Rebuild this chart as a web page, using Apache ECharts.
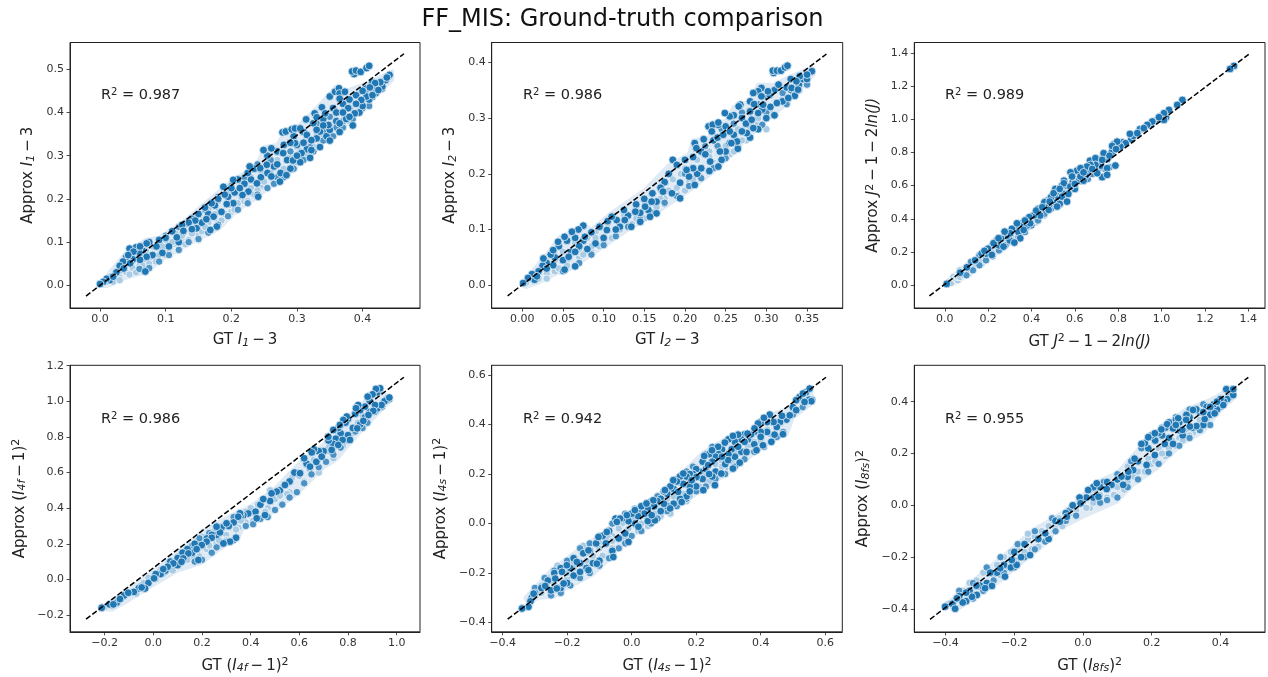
<!DOCTYPE html>
<html><head><meta charset="utf-8">
<style>html,body{margin:0;padding:0;background:#fff}#c{width:1268px;height:677px}</style>
<script src="https://cdn.jsdelivr.net/npm/echarts@6/dist/echarts.min.js"></script></head>
<body><div id="c"></div>
<script>
// ---- tick values
const xTicks1=[0,0.1,0.2,0.3,0.4], yTicks1=[0,0.1,0.2,0.3,0.4,0.5];
const xTicks2=[0,0.05,0.1,0.15,0.2,0.25,0.3,0.35], yTicks2=[0,0.1,0.2,0.3,0.4];
const xTicks3=[0,0.2,0.4,0.6,0.8,1,1.2,1.4], yTicks3=[0,0.2,0.4,0.6,0.8,1,1.2,1.4];
const xTicks4=[-0.2,0,0.2,0.4,0.6,0.8,1], yTicks4=[-0.2,0,0.2,0.4,0.6,0.8,1,1.2];
const xTicks5=[-0.4,-0.2,0,0.2,0.4,0.6], yTicks5=[-0.4,-0.2,0,0.2,0.4,0.6];
const xTicks6=[-0.4,-0.2,0,0.2,0.4], yTicks6=[-0.4,-0.2,0,0.2,0.4];
const r2Values=["0.987","0.986","0.989","0.986","0.942","0.955"];
// ---- reference (dashed) line end points
const line1=[[-0.0213,-0.0248],[0.463,0.536]];
const line2=[[-0.018,-0.019],[0.374,0.415]];
const line3=[[-0.071,-0.0645],[1.403,1.392]];
const line4=[[-0.2766,-0.223],[1.03,1.135]];
const line5=[[-0.3845,-0.386],[0.6025,0.5907]];
const line6=[[-0.445,-0.44],[0.481,0.494]];
// ---- outline of the dense pale cloud
const cloud1=[[0,0],[.015,.03],[.04,.075],[.07,.105],[.09,.11],[.13,.15],[.16,.19],[.2,.24],[.24,.28],[.25,.32],[.27,.325],[.28,.35],[.3,.365],[.33,.41],[.36,.46],[.375,.45],[.41,.47],[.445,.495],[.445,.475],[.42,.44],[.4,.41],[.37,.365],[.34,.335],[.31,.29],[.285,.255],[.26,.23],[.24,.205],[.21,.175],[.18,.13],[.14,.1],[.1,.065],[.07,.03],[.04,.018],[.01,-.002]];
const cloud2=[[0,0],[.01,.02],[.03,.055],[.045,.085],[.075,.108],[.085,.1],[.11,.13],[.15,.17],[.18,.215],[.205,.235],[.21,.26],[.23,.265],[.235,.29],[.25,.295],[.26,.32],[.28,.33],[.29,.36],[.31,.36],[.33,.375],[.355,.39],[.358,.378],[.34,.35],[.32,.32],[.3,.295],[.27,.255],[.24,.21],[.21,.175],[.18,.145],[.16,.125],[.13,.1],[.1,.07],[.08,.05],[.06,.03],[.04,.02],[.02,.005],[.005,-.003]];
const cloud3=[[0,.005],[.05,.07],[.1,.125],[.15,.17],[.2,.235],[.3,.33],[.4,.43],[.5,.55],[.52,.5],[.45,.42],[.4,.36],[.35,.3],[.25,.2],[.2,.16],[.15,.11],[.1,.055],[.05,.015],[.01,-.005]];
const cloud4=[[-.22,-.165],[-.1,-.055],[0,.045],[.1,.15],[.2,.27],[.3,.345],[.4,.41],[.5,.51],[.6,.65],[.7,.755],[.8,.91],[.9,1.04],[.93,1.08],[.97,1.0],[.85,.83],[.75,.67],[.7,.63],[.58,.47],[.45,.34],[.37,.3],[.35,.23],[.3,.2],[.2,.095],[.1,.05],[0,-.03],[-.1,-.115],[-.17,-.17]];
const cloud5=[[-.33,-.3],[-.3,-.26],[-.25,-.19],[-.2,-.14],[-.14,-.085],[-.08,-.03],[-.03,.03],[.01,.06],[.07,.1],[.12,.16],[.17,.22],[.22,.285],[.27,.325],[.33,.365],[.37,.37],[.43,.44],[.5,.47],[.55,.55],[.565,.49],[.5,.43],[.48,.36],[.44,.34],[.38,.285],[.32,.225],[.27,.18],[.2,.12],[.15,.075],[.1,.045],[.06,-.005],[.01,-.04],[-.03,-.08],[-.06,-.13],[-.12,-.205],[-.2,-.26],[-.24,-.295],[-.29,-.3],[-.32,-.32]];
const cloud6=[[-.4,-.385],[-.35,-.33],[-.3,-.27],[-.25,-.215],[-.2,-.16],[-.15,-.1],[-.08,-.045],[-.03,0],[0,.04],[.04,.09],[.1,.125],[.15,.2],[.2,.27],[.25,.32],[.3,.37],[.35,.395],[.39,.42],[.43,.455],[.44,.415],[.4,.37],[.35,.284],[.29,.24],[.214,.143],[.146,.08],[.098,.014],[0,-.044],[-.076,-.095],[-.125,-.166],[-.2,-.243],[-.24,-.29],[-.32,-.36],[-.37,-.405]];
// ---- pale markers (dense interior)
const pale1=[[.01,.008],[.015,.02],[.02,.008],[.03,.03],[.03,.018],[.04,.05],[.04,.03],[.05,.065],[.05,.04],[.06,.07],[.06,.045],[.07,.08],[.07,.055],[.08,.09],[.08,.06],[.09,.1],[.09,.07],[.1,.105],[.1,.08],[.1,.07],[.115,.12],[.115,.095],[.13,.14],[.13,.105],[.13,.095],[.145,.16],[.15,.135],[.15,.115],[.165,.175],[.165,.145],[.18,.195],[.18,.17],[.18,.145],[.195,.215],[.2,.185],[.2,.17],[.215,.24],[.215,.2],[.23,.25],[.23,.225],[.245,.265],[.245,.23],[.26,.26],[.27,.29],[.285,.27],[.3,.32],[.31,.3],[.33,.35],[.35,.35],[.38,.38],[.03,.012],[.045,.025],[.055,.03],[.065,.045],[.075,.05],[.085,.055],[.095,.09],[.105,.075],[.11,.1],[.12,.085],[.125,.115],[.135,.105],[.14,.12],[.15,.105],[.155,.125],[.16,.135],[.17,.13],[.175,.165],[.185,.15],[.19,.165],[.195,.16],[.205,.175],[.21,.19],[.22,.195],[.225,.195],[.235,.21],[.24,.22],[.25,.24],[.255,.225],[.265,.25],[.27,.245],[.28,.27],[.29,.3],[.295,.28],[.305,.31],[.315,.3],[.325,.32],[.34,.34]];
const pale2=[[.005,.005],[.012,.02],[.02,.012],[.025,.035],[.03,.02],[.04,.045],[.04,.025],[.05,.06],[.055,.04],[.065,.075],[.07,.05],[.08,.085],[.085,.065],[.09,.095],[.1,.08],[.105,.11],[.115,.09],[.125,.125],[.13,.105],[.14,.14],[.145,.115],[.155,.15],[.165,.14],[.17,.17],[.175,.155],[.185,.19],[.19,.165],[.2,.21],[.205,.185],[.215,.225],[.22,.195],[.23,.24],[.235,.22],[.25,.25],[.255,.235],[.265,.28],[.275,.26],[.29,.29],[.305,.31],[.32,.335],[.03,.012],[.045,.03],[.055,.035],[.07,.06],[.075,.055],[.085,.07],[.09,.085],[.095,.07],[.11,.085],[.12,.1],[.125,.115],[.135,.11],[.14,.12],[.15,.12],[.16,.13],[.17,.155],[.175,.145],[.18,.17],[.19,.175],[.195,.2],[.2,.17],[.21,.19],[.22,.21],[.23,.23],[.24,.215],[.25,.23],[.26,.24],[.27,.26],[.28,.285],[.29,.3],[.3,.28]];
const pale3=[[.02,.02],[.03,.015],[.04,.05],[.05,.04],[.06,.03],[.07,.09],[.08,.06],[.09,.08],[.1,.1],[.11,.07],[.12,.13],[.13,.1],[.14,.14],[.15,.12],[.16,.16],[.17,.13],[.18,.18],[.19,.17],[.2,.2],[.21,.18],[.23,.22],[.25,.25],[.26,.22],[.28,.29],[.3,.26],[.32,.32],[.34,.31],[.36,.37],[.38,.35],[.4,.41],[.42,.38],[.44,.44],[.46,.42],[.48,.49],[.06,.05],[.07,.05],[.08,.08],[.09,.06],[.11,.1],[.12,.09],[.13,.11],[.14,.12],[.15,.15],[.16,.13],[.17,.15],[.18,.2],[.19,.15],[.2,.18],[.21,.21],[.22,.2],[.24,.23],[.26,.25],[.27,.27],[.29,.26],[.3,.3],[.31,.28],[.33,.35],[.35,.33],[.37,.35],[.39,.39],[.41,.39],[.43,.42],[.45,.44],[.47,.46]];
const pale4=[[-.2,-.155],[-.17,-.15],[-.15,-.115],[-.12,-.1],[-.1,-.07],[-.08,-.07],[-.05,-.03],[-.03,-.01],[0,.02],[.02,.02],[.03,.055],[.05,.04],[.06,.09],[.09,.07],[.1,.13],[.12,.1],[.13,.16],[.15,.12],[.17,.2],[.19,.13],[.2,.24],[.22,.17],[.24,.24],[.26,.2],[.28,.3],[.3,.25],[.33,.33],[.35,.29],[.38,.38],[.41,.33],[.43,.42],[.47,.4],[.5,.45],[.53,.52],[.56,.49],[.59,.6],[.62,.55],[.66,.67],[.68,.6],[.72,.72],[.74,.68],[.78,.75],[.82,.82],[.86,.92],[.92,.97],[.9,.95],[.84,.88],[.78,.8],[.72,.74],[.64,.62],[.6,.58],[.57,.57],[.55,.48],[.52,.47],[.48,.5],[.46,.38],[.42,.36],[.4,.4],[.38,.32],[.36,.33],[.34,.28],[.32,.32],[.3,.22],[.27,.22],[.25,.27],[.23,.19],[.21,.2],[.18,.22],[.16,.13],[.14,.11],[.11,.09],[.08,.05],[.04,.03],[.01,0],[-.02,.01],[-.04,-.02],[-.07,-.08],[-.11,-.07],[-.13,-.11],[-.16,-.12]];
const pale5=[[-.3,-.28],[-.28,-.25],[-.26,-.22],[-.25,-.27],[-.22,-.18],[-.2,-.22],[-.18,-.16],[-.17,-.22],[-.14,-.12],[-.13,-.16],[-.1,-.08],[-.09,-.13],[-.06,-.05],[-.06,-.1],[-.03,0],[-.02,-.06],[0,.02],[.02,-.03],[.04,.03],[.05,-.01],[.08,.08],[.09,.03],[.11,.1],[.12,.04],[.15,.12],[.17,.09],[.19,.16],[.2,.14],[.23,.2],[.25,.17],[.27,.25],[.29,.22],[.32,.29],[.33,.25],[.36,.31],[.38,.33],[.42,.38],[.45,.39],[.5,.46],[-.28,-.28],[-.24,-.24],[-.23,-.17],[-.2,-.2],[-.18,-.18],[-.15,-.09],[-.14,-.15],[-.12,-.13],[-.1,-.1],[-.07,-.06],[-.06,-.07],[-.04,-.02],[-.01,-.02],[.01,.02],[.03,0],[.06,.02],[.07,.04],[.1,.06],[.13,.11],[.14,.08],[.16,.12],[.18,.11],[.21,.15],[.24,.17],[.26,.24],[.28,.23],[.31,.25],[.33,.31],[.36,.29],[.4,.33],[.43,.36]];
const pale6=[[-.36,-.35],[-.33,-.3],[-.3,-.3],[-.28,-.25],[-.26,-.27],[-.23,-.2],[-.22,-.24],[-.19,-.17],[-.19,-.21],[-.16,-.13],[-.15,-.17],[-.12,-.1],[-.11,-.14],[-.09,-.07],[-.08,-.09],[-.05,-.03],[-.03,-.03],[0,.01],[.02,-.01],[.04,.05],[.06,.02],[.08,.08],[.09,.04],[.11,.09],[.12,.06],[.14,.15],[.15,.11],[.17,.13],[.19,.18],[.2,.16],[.22,.22],[.24,.19],[.26,.25],[.28,.26],[.3,.29],[.32,.28],[.34,.33],[.36,.33],[.38,.38],[-.39,-.38],[-.35,-.33],[-.31,-.29],[-.29,-.26],[-.25,-.23],[-.24,-.27],[-.21,-.18],[-.2,-.21],[-.17,-.18],[-.16,-.11],[-.14,-.12],[-.13,-.16],[-.1,-.08],[-.07,-.05],[-.06,-.08],[-.04,-.02],[-.02,-.02],[.01,-.01],[.03,.01],[.05,.04],[.07,.03],[.1,.07],[.13,.09],[.13,.15],[.16,.13],[.18,.13],[.21,.17],[.23,.2],[.25,.22],[.27,.23],[.29,.25],[.31,.27],[.33,.3],[.35,.31]];
// ---- mid-tone markers along the rims of each band
const rim1=[[.06,.038],[.075,.04],[.09,.055],[.105,.07],[.12,.082],[.135,.1],[.15,.107],[.165,.122],[.18,.14],[.195,.16],[.21,.175],[.225,.19],[.24,.21],[.255,.225],[.265,.235],[.28,.25],[.295,.27],[.31,.29],[.325,.31],[.34,.335],[.355,.345],[.37,.365],[.385,.385],[.4,.41],[.415,.435],[.43,.455],[.1,.115],[.12,.135],[.14,.155],[.16,.175],[.18,.205],[.2,.23],[.22,.25],[.24,.28],[.26,.29],[.27,.25],[.29,.31],[.3,.29],[.32,.32],[.34,.355],[.36,.365],[.38,.41],[.37,.38],[.35,.39],[.33,.375],[.42,.46],[.41,.415]];
const rim2=[[.05,.025],[.07,.04],[.085,.055],[.1,.072],[.115,.088],[.13,.105],[.145,.118],[.16,.13],[.175,.148],[.19,.16],[.205,.178],[.22,.192],[.235,.21],[.25,.228],[.265,.248],[.28,.265],[.295,.288],[.31,.305],[.325,.325],[.34,.35],[.35,.36],[.29,.325],[.3,.31],[.32,.345],[.33,.35],[.27,.31],[.26,.29],[.24,.25],[.245,.28],[.225,.25],[.2,.2]];
const rim3=[[.1,.06],[.13,.09],[.16,.12],[.19,.15],[.22,.175],[.25,.21],[.28,.24],[.31,.265],[.34,.29],[.37,.32],[.4,.36],[.43,.39],[.46,.43],[.49,.46],[.52,.54],[.47,.51],[.42,.43],[.33,.34],[.28,.3],[.23,.25],[.16,.18],[.12,.14],[.66,.64],[.68,.67],[.74,.7],[.71,.7],[.76,.71]];
const rim4=[[.97,1.01],[.94,.97],[.91,.94],[.88,.88],[.86,.85],[.83,.83],[.8,.78],[.77,.74],[.74,.7],[.71,.66],[.68,.63],[.65,.59],[.62,.54],[.59,.49],[.56,.46],[.53,.42],[.5,.39],[.47,.35],[.44,.34],[.41,.31],[.38,.3],[.33,.22],[.3,.21],[.26,.18],[.24,.15],[.2,.11],[.17,.1],[.36,.37],[.33,.35],[.26,.3],[.23,.26],[.19,.23],[.16,.19]];
const rim5=[[.56,.5],[.53,.47],[.5,.44],[.47,.37],[.45,.35],[.41,.31],[.38,.29],[.35,.26],[.32,.23],[.29,.2],[.26,.18],[.23,.15],[.2,.13],[.17,.1],[.14,.07],[.11,.05],[.08,.02],[.06,0],[.03,-.03],[0,-.05],[-.02,-.08],[-.04,-.1],[-.07,-.14],[-.1,-.17],[-.13,-.2],[-.16,-.22],[-.19,-.25],[-.22,-.28],[-.25,-.29],[.33,.36],[.29,.33],[.25,.31],[.23,.28],[.19,.23],[.17,.21],[.14,.18],[.11,.14],[.08,.11],[.06,.09],[.03,.05],[.01,.06],[-.02,.04],[-.06,0],[-.1,-.05],[-.13,-.08],[-.16,-.1],[-.2,-.15],[-.24,-.19],[-.27,-.22],[-.3,-.26]];
const rim6=[[.43,.42],[.4,.38],[.37,.31],[.34,.29],[.31,.26],[.28,.23],[.25,.2],[.22,.16],[.19,.13],[.16,.1],[.13,.07],[.1,.03],[.07,.02],[.05,.01],[-.02,-.04],[-.05,-.06],[-.08,-.1],[-.11,-.14],[-.14,-.17],[-.17,-.2],[-.2,-.24],[-.23,-.26],[-.26,-.29],[-.29,-.33],[-.32,-.36],[.35,.39],[.31,.37],[.27,.34],[.23,.3],[.21,.27],[.17,.22],[.14,.17],[.1,.12],[.06,.09],[.02,.06],[-.04,-.02],[-.09,-.05],[-.14,-.1],[-.19,-.15],[-.24,-.2],[-.28,-.24],[-.32,-.3],[-.36,-.33]];
// ---- strong markers
const dark1=[[.255,.30],[.265,.275],[.27,.31],[.275,.26],[.28,.325],[.285,.29],[.29,.27],[.295,.345],[.3,.325],[.305,.285],[.31,.355],[.315,.315],[.32,.295],[.325,.375],[.33,.34],[.335,.32],[.34,.385],[.345,.345],[.35,.335],[.355,.41],[.36,.38],[.365,.355],[.37,.42],[.375,.385],[.38,.43],[.385,.37],[.39,.44],[.395,.4],[.4,.415],[.405,.455],[.41,.43],[.415,.47],[.42,.445],[.43,.46],[.435,.475],[.255,.26],[.245,.25],[.235,.27],[.23,.245],[.225,.26],[.22,.235],[.21,.245],[.205,.215],[.2,.225],[.195,.205],[.19,.21],[.185,.17],[.18,.2],[.175,.185],[.17,.19],[.165,.165],[.16,.18],[.155,.145],[.15,.165],[.145,.15],[.135,.145],[.125,.14],[.12,.1],[.11,.125],[.105,.09],[.1,.11],[.095,.075],[.09,.105],[.08,.07],[.075,.1],[.065,.08],[.06,.075],[.055,.088],[.05,.06],[.045,.085],[.04,.065],[.035,.055],[.03,.045],[.025,.03],[.015,.012],[.01,.015],[.387,.489],[.384,.495],[.39,.497],[.397,.494],[.406,.503],[.41,.508],[.35,.437],[.358,.448],[.364,.456],[.365,.444],[.373,.448],[.365,.432],[.314,.384],[.327,.398],[.338,.412],[.33,.389],[.343,.398],[.278,.354],[.283,.356],[.292,.361],[.297,.363],[.305,.363],[.441,.487],[.437,.481],[.427,.47],[.419,.468],[.411,.458],[.424,.452],[.406,.437],[.398,.429],[.388,.398],[.378,.41],[.365,.375],[.35,.36],[.348,.371],[.335,.356],[.322,.313],[.307,.306],[.294,.289],[.284,.255],[.274,.24],[.261,.252],[.254,.279],[.249,.313],[.261,.317],[.279,.306],[.297,.329],[.315,.348],[.322,.336],[.239,.236],[.226,.217],[.241,.205],[.217,.209],[.203,.19],[.193,.188],[.213,.225],[.173,.159],[.178,.136],[.168,.128],[.147,.132],[.14,.13],[.127,.126],[.117,.111],[.162,.153],[.188,.228],[.203,.244],[.228,.275],[.244,.271],[.071,.097],[.061,.09],[.051,.078],[.043,.07],[.071,.066],[.061,.059],[.046,.051],[.036,.039],[.069,.032],[.005,.008],[0,.003],[.02,.02],[.086,.09],[.27,.28],[.29,.33],[.3,.3],[.31,.33],[.33,.36],[.34,.37],[.36,.4],[.37,.4],[.38,.39],[.39,.42],[.4,.45],[.415,.44]];
const dark2=[[.2,.225],[.205,.195],[.21,.23],[.215,.2],[.22,.24],[.225,.235],[.23,.205],[.235,.26],[.24,.265],[.245,.225],[.25,.285],[.25,.24],[.255,.255],[.26,.305],[.26,.27],[.265,.245],[.27,.3],[.275,.29],[.28,.33],[.28,.265],[.285,.325],[.29,.28],[.295,.315],[.3,.34],[.3,.3],[.305,.32],[.31,.35],[.31,.305],[.315,.36],[.32,.33],[.325,.355],[.33,.37],[.335,.34],[.34,.36],[.345,.37],[.35,.37],[.18,.2],[.185,.225],[.175,.185],[.17,.175],[.165,.15],[.16,.165],[.155,.135],[.15,.155],[.145,.13],[.14,.145],[.13,.125],[.125,.135],[.12,.105],[.115,.1],[.105,.115],[.1,.085],[.095,.105],[.09,.075],[.085,.095],[.08,.065],[.075,.08],[.07,.07],[.065,.085],[.06,.06],[.055,.08],[.05,.045],[.045,.07],[.04,.05],[.035,.055],[.03,.04],[.025,.035],[.02,.025],[.015,.01],[.012,.02],[.309,.381],[.308,.385],[.313,.385],[.318,.385],[.323,.391],[.326,.394],[.356,.384],[.35,.378],[.341,.375],[.337,.366],[.331,.354],[.327,.336],[.339,.351],[.313,.327],[.304,.342],[.294,.354],[.29,.348],[.284,.345],[.294,.339],[.302,.348],[.296,.324],[.29,.309],[.282,.297],[.284,.282],[.276,.273],[.27,.276],[.264,.258],[.257,.255],[.28,.312],[.268,.324],[.266,.321],[.255,.303],[.255,.276],[.247,.27],[.249,.309],[.241,.288],[.229,.285],[.234,.288],[.241,.292],[.233,.276],[.212,.255],[.223,.262],[.214,.246],[.243,.24],[.231,.222],[.241,.213],[.22,.21],[.21,.21],[.202,.207],[.19,.216],[.194,.184],[.184,.165],[.173,.168],[.212,.18],[.194,.156],[.165,.129],[.157,.123],[.145,.114],[.159,.15],[.151,.141],[.139,.132],[.126,.117],[.116,.117],[.104,.099],[.11,.123],[.134,.105],[.075,.107],[.069,.1],[.061,.096],[.052,.087],[.044,.078],[.057,.051],[.065,.06],[.077,.087],[.065,.034],[.052,.028],[.038,.036],[.03,.03],[.018,.016],[.007,.013],[.001,.004],[.026,.048],[.038,.063]];
const dark3=[[.62,.63],[.61,.69],[.59,.62],[.58,.68],[.56,.6],[.55,.55],[.54,.6],[.52,.52],[.51,.58],[.5,.5],[.49,.53],[.47,.49],[.46,.5],[.44,.42],[.43,.46],[.41,.42],[.39,.41],[.38,.36],[.35,.37],[.34,.32],[.31,.34],[.3,.27],[.29,.3],[.26,.28],[.25,.24],[.24,.27],[.2,.22],[.19,.19],[.66,.68],[.67,.75],[.65,.66],[.7,.74],[.72,.72],[.73,.77],[.75,.76],[.77,.8],[.78,.85],[.8,.84],[.82,.86],[.86,.88],[.87,.9],[.9,.94],[.95,.97],[.97,.99],[.99,1.0],[1.02,1.01],[1.0,1.02],[.53,.49],[.6,.58],[.64,.63],[.55,.63],[.48,.48],[.14,.15],[.17,.19],[1.334,1.321],[1.316,1.303],[1.096,1.116],[1.072,1.086],[1.034,1.056],[1.011,1.036],[1.011,.996],[.988,1.012],[.957,.986],[.934,.966],[.918,.946],[.888,.916],[.854,.912],[.834,.855],[.81,.835],[.795,.865],[.772,.839],[.787,.721],[.749,.705],[.726,.651],[.749,.665],[.703,.675],[.733,.795],[.695,.765],[.695,.725],[.672,.725],[.726,.755],[.656,.715],[.626,.705],[.587,.655],[.626,.655],[.549,.614],[.579,.594],[.541,.534],[.518,.474],[.564,.504],[.502,.554],[.484,.504],[.479,.454],[.422,.45],[.394,.373],[.333,.373],[.348,.283],[.321,.257],[.302,.313],[.276,.323],[.271,.233],[.225,.253],[.183,.207],[.217,.183],[.102,.108],[.071,.076],[.009,.008],[.364,.333],[.248,.283],[.6,.61],[.64,.68],[.53,.58],[.57,.55],[.45,.47],[.37,.39],[.68,.7],[.76,.78],[.79,.82]];
const dark4=[[.96,1.01],[.95,1.0],[.93,1.06],[.92,1.05],[.92,.96],[.89,1.0],[.89,.94],[.87,.97],[.87,.91],[.85,.95],[.85,.87],[.83,.93],[.82,.85],[.8,.9],[.8,.81],[.79,.88],[.77,.82],[.76,.85],[.75,.79],[.74,.76],[.72,.78],[.7,.72],[.68,.72],[.67,.66],[.66,.73],[.63,.65],[.62,.68],[.58,.6],[.56,.55],[.52,.5],[.48,.44],[.44,.42],[.42,.38],[.39,.37],[.37,.36],[.36,.36],[.33,.32],[.31,.3],[.28,.29],[.26,.25],[.24,.25],[.22,.23],[.2,.19],[.17,.2],[.16,.15],[.14,.17],[.12,.15],[.1,.12],[.1,.08],[.07,.1],[.05,.05],[.03,.03],[.01,.03],[-.02,-.02],[-.06,-.05],[-.08,-.07],[-.12,-.09],[-.15,-.13],[-.18,-.14],[.932,1.073],[.915,1.069],[.901,1.039],[.881,1.026],[.842,.979],[.833,.961],[.97,1.021],[.938,.979],[.911,.979],[.904,.946],[.884,.923],[.863,.89],[.838,.848],[.795,.914],[.781,.895],[.767,.867],[.74,.839],[.719,.801],[.808,.783],[.778,.783],[.76,.755],[.733,.727],[.692,.689],[.644,.633],[.651,.713],[.603,.596],[.507,.493],[.486,.483],[.541,.53],[.452,.451],[.459,.361],[.425,.343],[.356,.371],[.34,.234],[.315,.212],[.288,.202],[.301,.315],[.349,.352],[.274,.264],[.24,.234],[.219,.212],[.199,.193],[.178,.17],[.144,.146],[.123,.118],[.082,.09],[.059,.071],[.041,.058],[.003,.006],[-.034,-.051],[-.048,-.045],[-.103,-.075],[-.137,-.11],[-.164,-.14],[-.212,-.159],[.185,.109],[.26,.296],[.116,.099]];
const dark5=[[.55,.5],[.54,.53],[.52,.51],[.5,.47],[.48,.42],[.46,.41],[.45,.39],[.44,.41],[.42,.37],[.42,.41],[.4,.41],[.4,.37],[.38,.37],[.38,.32],[.36,.34],[.37,.36],[.35,.36],[.34,.34],[.34,.29],[.32,.33],[.32,.27],[.31,.3],[.3,.34],[.3,.28],[.29,.24],[.28,.3],[.27,.28],[.26,.27],[.26,.21],[.25,.25],[.25,.19],[.24,.28],[.23,.22],[.22,.25],[.22,.18],[.21,.21],[.2,.22],[.2,.15],[.19,.2],[.18,.2],[.18,.15],[.17,.19],[.17,.11],[.16,.16],[.15,.19],[.15,.1],[.14,.17],[.13,.14],[.13,.08],[.12,.15],[.11,.07],[.11,.12],[.1,.13],[.09,.1],[.09,.05],[.08,.09],[.07,.07],[.05,.06],[.05,.01],[.04,.04],[.03,.07],[.02,.03],[.01,0],[0,.04],[-.01,.01],[-.02,-.04],[-.03,.02],[-.04,-.06],[-.05,.02],[-.06,-.11],[-.07,-.03],[-.08,-.08],[-.09,-.05],[-.1,-.15],[-.11,-.08],[-.12,-.16],[-.13,-.11],[-.14,-.18],[-.15,-.12],[-.16,-.16],[-.18,-.14],[-.18,-.21],[-.19,-.18],[-.2,-.24],[-.22,-.18],[-.22,-.26],[-.24,-.2],[-.25,-.27],[-.26,-.23],[-.28,-.26],[-.3,-.28],[-.31,-.3],[.557,.494],[.552,.545],[.531,.525],[.51,.498],[.536,.491],[.51,.458],[.49,.437],[.466,.435],[.428,.44],[.41,.427],[.392,.404],[.381,.384],[.469,.361],[.443,.359],[.433,.33],[.407,.316],[.387,.296],[.359,.363],[.33,.359],[.314,.354],[.289,.327],[.268,.31],[.249,.296],[.225,.273],[.33,.31],[.356,.289],[.299,.256],[.314,.222],[.335,.246],[.278,.202],[.258,.155],[.222,.135],[.201,.188],[.16,.202],[.129,.175],[.103,.135],[.067,.094],[.046,.081],[.119,.061],[.155,.087],[.072,.013],[.01,.054],[-.015,.034],[-.036,.02],[-.01,-.074],[-.057,-.135],[-.108,-.162],[-.134,-.188],[-.16,-.195],[-.201,-.168],[-.216,-.195],[-.237,-.222],[-.211,-.242],[-.232,-.262],[-.268,-.252],[-.304,-.283],[-.314,-.314],[-.32,-.336],[-.34,-.343],[-.17,-.155],[-.103,-.054],[-.077,-.034],[-.134,-.108],[-.046,.007],[.186,.175],[.237,.236],[.144,.128],[.062,.034],[.021,-.013],[.28,.27],[.35,.33],[.4,.35],[.24,.2],[.18,.13],[.1,.08]];
const dark6=[[.42,.41],[.41,.4],[.4,.41],[.39,.37],[.38,.39],[.37,.35],[.36,.38],[.35,.31],[.34,.36],[.33,.37],[.32,.3],[.31,.34],[.3,.35],[.29,.27],[.28,.32],[.28,.29],[.27,.33],[.26,.3],[.25,.32],[.25,.26],[.24,.3],[.23,.27],[.22,.28],[.21,.25],[.2,.27],[.19,.22],[.18,.24],[.16,.17],[.15,.18],[.13,.11],[.1,.1],[.07,.09],[.05,.07],[.03,.07],[.03,.03],[.01,.03],[-.01,.03],[-.03,0],[-.05,-.03],[-.08,-.06],[-.1,-.13],[-.13,-.13],[-.17,-.15],[-.18,-.2],[-.2,-.18],[-.21,-.24],[-.23,-.23],[-.25,-.26],[-.27,-.26],[-.28,-.3],[-.3,-.31],[-.31,-.31],[-.33,-.33],[-.34,-.37],[-.36,-.35],[-.38,-.38],[.437,.426],[.417,.448],[.437,.448],[.408,.387],[.383,.355],[.354,.333],[.33,.306],[.32,.368],[.301,.349],[.277,.336],[.245,.313],[.228,.293],[.209,.278],[.19,.263],[.17,.237],[.289,.291],[.262,.237],[.238,.237],[.209,.194],[.185,.156],[.146,.136],[.132,.13],[.112,.111],[.117,.079],[.083,.079],[.069,.063],[.045,.033],[.04,.085],[.015,.059],[-.007,.008],[-.047,-.044],[-.067,-.063],[-.11,-.108],[-.154,-.192],[-.193,-.23],[-.207,-.211],[-.241,-.243],[-.227,-.275],[-.265,-.311],[-.285,-.32],[-.309,-.346],[-.323,-.353],[-.34,-.337],[-.35,-.375],[-.372,-.399],[-.401,-.391],[-.367,-.359],[.262,.297],[.311,.304],[.35,.36],[.37,.38],[.39,.4],[.27,.31],[.3,.33]];

const blue='#1f77b4';
const it=t=>'{i|'+t+'}', sub=t=>'{s|'+t+'}', sup=t=>'{u|'+t+'}';
const minus='\u2009−\u2009';
const xNames=['GT '+it('I')+sub('1')+minus+'3','GT '+it('I')+sub('2')+minus+'3','GT '+it('J')+sup('2')+minus+'1'+minus+'2'+it('ln(J)'),'GT ('+it('I')+sub('4f')+minus+'1)'+sup('2'),'GT ('+it('I')+sub('4s')+minus+'1)'+sup('2'),'GT ('+it('I')+sub('8fs')+')'+sup('2')];
const yNames=xNames.map(s=>s.replace('GT','Approx'));
const rich={i:{fontStyle:'italic',fontSize:15,fontFamily:'DejaVu Sans',color:'#222'},s:{fontSize:11,fontFamily:'DejaVu Sans',fontStyle:'italic',color:'#222',padding:[0,0,-5,0]},u:{fontSize:11,fontFamily:'DejaVu Sans',color:'#222',padding:[0,0,7,0]}};
const rects=[[70,42.5,350,265.5],[491.7,42.5,351,265.5],[914.3,42.5,350.7,265.5],[70,365.3,350,266.5],[491.7,365.3,350.6,266.5],[914.3,365.3,350.7,266.7]];
const xRange=[[-.0457,.4874],[-.0376,.3939],[-.1405,1.477],[-.3424,1.096],[-.434,.653],[-.4908,.5295]];
const yRange=[[-.0525,.562],[-.0408,.4356],[-.137,1.462],[-.294,1.202],[-.437,.639],[-.489,.5405]];
const xDec=[1,2,1,1,1,1];
const xT=[xTicks1,xTicks2,xTicks3,xTicks4,xTicks5,xTicks6], yT=[yTicks1,yTicks2,yTicks3,yTicks4,yTicks5,yTicks6];
const lines=[line1,line2,line3,line4,line5,line6], clouds=[cloud1,cloud2,cloud3,cloud4,cloud5,cloud6], pales=[pale1,pale2,pale3,pale4,pale5,pale6], rims=[rim1,rim2,rim3,rim4,rim5,rim6], darks=[dark1,dark2,dark3,dark4,dark5,dark6];
const yGap=[34,34,32,41,42,42], xGap=[25,25,25,25,25,25];
const r2Pos=[[101,94],[523,94],[945,94],[101,418],[523,418],[945,418]];
const fmt=d=>v=>v.toFixed(d).replace('-','−');
const axisBase=(ticks,dec,name,gap)=>({type:'value',splitLine:{show:false},name:name,nameLocation:'middle',nameGap:gap,
 nameTextStyle:{fontSize:15,fontFamily:'DejaVu Sans',color:'#222',rich:rich},
 axisLine:{show:true,onZero:false,lineStyle:{color:'#222',width:1}},
 axisTick:{show:true,length:3.5,customValues:ticks,lineStyle:{color:'#222',width:.8}},
 axisLabel:{show:true,customValues:ticks,formatter:fmt(dec),fontSize:11,fontFamily:'DejaVu Sans',color:'#333',margin:6,hideOverlap:false,showMinLabel:true,showMaxLabel:true}});
const grid=[],xAxis=[],yAxis=[],series=[],title=[];
title.push({text:'FF_MIS: Ground-truth comparison',left:622.5,top:8,padding:0,textAlign:'center',textStyle:{fontSize:24,fontWeight:'normal',fontFamily:'DejaVu Sans',color:'#111'}});
for(let k=0;k<6;k++){
 const r=rects[k];
 grid.push({left:r[0],top:r[1],width:r[2],height:r[3],show:true,borderColor:'#222',borderWidth:1,backgroundColor:'#fff'});
 xAxis.push(Object.assign(axisBase(xT[k],xDec[k],xNames[k],xGap[k]),{gridIndex:k,min:xRange[k][0],max:xRange[k][1]}));
 yAxis.push(Object.assign(axisBase(yT[k],1,yNames[k],yGap[k]),{gridIndex:k,min:yRange[k][0],max:yRange[k][1]}));
 const c=clouds[k];
 series.push({type:'custom',xAxisIndex:k,yAxisIndex:k,data:[[0,0]],silent:true,z:1,
  renderItem:(p,api)=>({type:'polygon',shape:{points:c.map(q=>api.coord(q))},style:{fill:'#dfeaf5',stroke:'#dfeaf5',lineWidth:4,lineJoin:'round'}})});
 series.push({type:'scatter',xAxisIndex:k,yAxisIndex:k,data:pales[k],symbolSize:7.5,z:2,itemStyle:{color:'#a9cbe4',borderColor:'#f4f8fc',borderWidth:.9,opacity:1},silent:true});
 series.push({type:'scatter',xAxisIndex:k,yAxisIndex:k,data:rims[k],symbolSize:7.5,z:2.5,itemStyle:{color:'#4a92c4',borderColor:'#eef4fa',borderWidth:.9,opacity:1},silent:true});
 series.push({type:'scatter',xAxisIndex:k,yAxisIndex:k,data:darks[k],symbolSize:7.8,z:3,itemStyle:{color:blue,borderColor:'#e8f0f8',borderWidth:.8,opacity:1},silent:true});
 series.push({type:'line',xAxisIndex:k,yAxisIndex:k,data:lines[k],showSymbol:false,symbol:'none',z:4,silent:true,lineStyle:{color:'#000',width:1.5,type:[5.5,2.4]}});
 title.push({text:'R{u2|2} = '+r2Values[k],left:r2Pos[k][0],top:r2Pos[k][1]-7,padding:0,textStyle:{fontSize:14.5,fontWeight:'normal',fontFamily:'DejaVu Sans',color:'#222',rich:{u2:{fontSize:10,fontFamily:'DejaVu Sans',color:'#222',padding:[0,0,7,0]}}}});
}
const chart=echarts.init(document.getElementById('c'),null,{renderer:'canvas'});
chart.setOption({animation:false,backgroundColor:'#fff',title,grid,xAxis,yAxis,series});
</script></body></html>
